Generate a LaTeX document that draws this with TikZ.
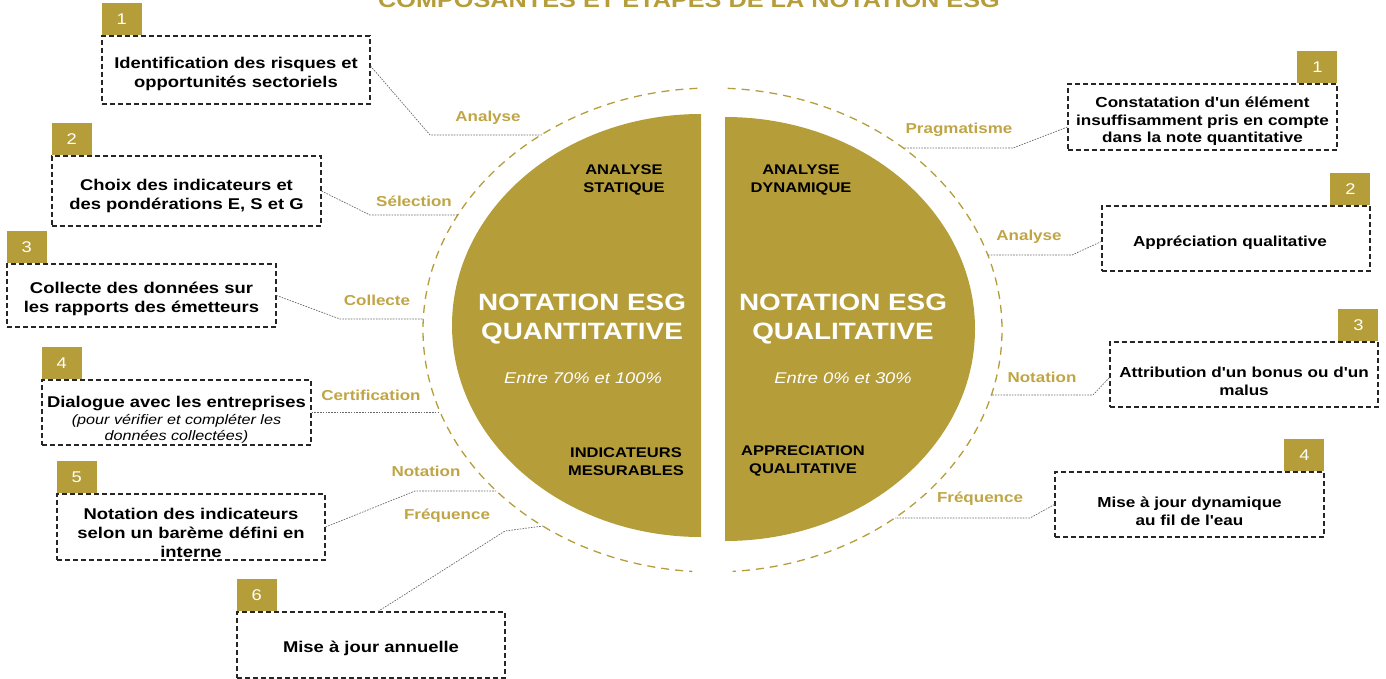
\documentclass[tikz,border=0pt]{standalone}
\usepackage{fontspec}
\setmainfont{Liberation Sans}[FakeStretch=1.18, Ligatures=TeXOff]
\definecolor{gold}{RGB}{181,157,58}
\definecolor{goldtxt}{RGB}{192,165,70}
\definecolor{conngray}{RGB}{105,105,105}
\begin{document}
\begin{tikzpicture}[x=1pt,y=-1pt,
  stepbox/.style={draw=black!85, line width=1.1pt, dash pattern=on 5pt off 3pt, inner sep=0pt},
  ltxt/.style={inner sep=0pt, align=center, text=black, font=\fontsize{15.6}{19}\selectfont\bfseries},
  rtxt/.style={ltxt, font=\fontsize{14.5}{17.5}\selectfont\bfseries},
  tab/.style={fill=gold, minimum width=40pt, minimum height=32pt, inner sep=0pt, text=white, font=\fontsize{15.5}{17}\selectfont},
  conn/.style={draw=conngray, line width=0.7pt, dash pattern=on 1.6pt off 1.2pt},
  lbl/.style={text=goldtxt, font=\fontsize{14.4}{16}\selectfont\bfseries, inner sep=0pt},
  ring/.style={draw=gold, line width=1.3pt, dash pattern=on 8pt off 6pt},
  small/.style={text=black, align=center, inner sep=0pt, font=\fontsize{14}{18}\selectfont\bfseries},
  big/.style={text=white, align=center, inner sep=0pt, font=\fontsize{23.6}{29}\selectfont\bfseries},
  pct/.style={text=white, inner sep=0pt, font=\fontsize{15.5}{18}\selectfont\itshape}
]
\useasboundingbox (0,0) rectangle (1386,679);
\clip (0,0) rectangle (1386,679);

% title (cut off at top, as in the reference)
\node[anchor=base, text=gold, inner sep=0pt, font=\fontsize{21.4}{24}\selectfont\bfseries] (title) at (689,8) {COMPOSANTES ET ETAPES DE LA NOTATION ESG};

% half discs
\fill[gold] (701,114) arc[start angle=-90, end angle=-270, x radius=249, y radius=211.5] -- cycle;
\fill[gold] (725,117) arc[start angle=-90, end angle=90, x radius=250, y radius=212] -- cycle;

% dashed ring
\draw[ring] (712.5,330) ++(-93:289.5 and 242) arc[start angle=-93, end angle=-266, x radius=289.5, y radius=242];
\draw[ring] (712.5,330) ++(-87:289.5 and 242) arc[start angle=-87, end angle=86, x radius=289.5, y radius=242];

% centre texts
\node[small] (as) at (624,180) {ANALYSE\\STATIQUE};
\node[small] (im) at (626,462) {INDICATEURS\\MESURABLES};
\node[small] (ad) at (801,180) {ANALYSE\\DYNAMIQUE};
\node[small] (aq) at (803,461) {APPRECIATION\\QUALITATIVE};
\node[big] (nq) at (582,319) {NOTATION ESG\\QUANTITATIVE};
\node[big] (nl) at (843,319) {NOTATION ESG\\QUALITATIVE};
\node[pct] (p1) at (583,378) {Entre 70\% et 100\%};
\node[pct] (p2) at (843,378) {Entre 0\% et 30\%};

% left boxes
\node[stepbox, minimum width=268pt, minimum height=68pt] (b1) at (236,70) {};
\node[stepbox, minimum width=269pt, minimum height=70pt] (b2) at (186.5,191) {};
\node[stepbox, minimum width=269pt, minimum height=63pt] (b3) at (141.5,295.5) {};
\node[stepbox, minimum width=269pt, minimum height=65pt] (b4) at (176.5,412.5) {};
\node[stepbox, minimum width=268pt, minimum height=66pt] (b5) at (191,527) {};
\node[stepbox, minimum width=268pt, minimum height=66pt] (b6) at (371,645) {};

\node[ltxt] (b1t) at ([yshift=-4pt]b1.center) {Identification des risques et\\opportunités sectoriels};
\node[ltxt] (b2t) at ([yshift=-5pt]b2.center) {Choix des indicateurs et\\des pondérations E, S et G};
\node[ltxt] (b3t) at ([yshift=-3.5pt]b3.center) {Collecte des données sur\\les rapports des émetteurs};
\node[ltxt] (b4t) at ([yshift=-7pt]b4.center) {Dialogue avec les entreprises\\[-2pt]{\mdseries\itshape\fontsize{13.7}{17}\selectfont (pour vérifier et compléter les}\\[-3pt]{\mdseries\itshape\fontsize{13.7}{17}\selectfont données collectées)}};
\node[ltxt] (b5t) at ([yshift=-5.5pt]b5.center) {Notation des indicateurs\\selon un barème défini en\\interne};
\node[ltxt] (b6t) at ([yshift=-3pt]b6.center) {Mise à jour annuelle};

\node[tab, anchor=south west] (t1) at (b1.north west) {1};
\node[tab, anchor=south west] (t2) at (b2.north west) {2};
\node[tab, anchor=south west] (t3) at (b3.north west) {3};
\node[tab, anchor=south west] (t4) at (b4.north west) {4};
\node[tab, anchor=south west] (t5) at (b5.north west) {5};
\node[tab, anchor=south west] (t6) at (b6.north west) {6};

% right boxes
\node[stepbox, minimum width=269pt, minimum height=66pt] (r1) at (1202.5,117) {};
\node[stepbox, minimum width=268pt, minimum height=65pt] (r2) at (1236,238.5) {};
\node[stepbox, minimum width=268pt, minimum height=65pt] (r3) at (1244,374.5) {};
\node[stepbox, minimum width=269pt, minimum height=65pt] (r4) at (1189.5,504.5) {};

\node[rtxt] (r1t) at ([yshift=-4.5pt]r1.center) {Constatation d'un élément\\insuffisamment pris en compte\\dans la note quantitative};
\node[rtxt] (r2t) at ([xshift=-6pt,yshift=-4pt]r2.center) {Appréciation qualitative};
\node[rtxt] (r3t) at ([yshift=-7pt]r3.center) {Attribution d'un bonus ou d'un\\malus};
\node[rtxt] (r4t) at ([yshift=-6.5pt]r4.center) {Mise à jour dynamique\\au fil de l'eau};

\node[tab, anchor=south east] (u1) at (r1.north east) {1};
\node[tab, anchor=south east] (u2) at (r2.north east) {2};
\node[tab, anchor=south east] (u3) at (r3.north east) {3};
\node[tab, anchor=south east] (u4) at (r4.north east) {4};

% labels
\node[lbl] (la1) at (488,118) {Analyse};
\node[lbl] (la2) at (414,201) {Sélection};
\node[lbl] (la3) at (377,300) {Collecte};
\node[lbl] (la4) at (371,395) {Certification};
\node[lbl] (la5) at (426,471) {Notation};
\node[lbl] (la6) at (447,516) {Fréquence};
\node[lbl] (ra1) at (959,130) {Pragmatisme};
\node[lbl] (ra2) at (1029,237) {Analyse};
\node[lbl] (ra3) at (1042,377) {Notation};
\node[lbl] (ra4) at (980,499) {Fréquence};

% connector bends and ring points
\coordinate (k1) at (430,135); \coordinate (e1) at (542.5,135);
\coordinate (k2) at (370,215); \coordinate (e2) at (458,215);
\coordinate (k3) at (340,319); \coordinate (e3) at (423.3,319);
\coordinate (e4) at (440,412.5);
\coordinate (k5) at (415,491); \coordinate (e5) at (496,491);
\coordinate (k6) at (505,531); \coordinate (e6) at (543,526);
\coordinate (m1) at (1013,148); \coordinate (f1) at (903,148);
\coordinate (m2) at (1072,255); \coordinate (f2) at (988,255);
\coordinate (m3) at (1093,395); \coordinate (f3) at (991,395);
\coordinate (m4) at (1030,518); \coordinate (f4) at (895,518);

\draw[conn] ([yshift=4pt]b1.east) -- (k1) -- (e1);
\draw[conn] (b2.east) -- (k2) -- (e2);
\draw[conn] (b3.east) -- (k3) -- (e3);
\draw[conn] (b4.east) -- (e4);
\draw[conn] (b5.east) -- (k5) -- (e5);
\draw[conn] ([xshift=7pt]b6.north) -- (k6) -- (e6);
\draw[conn] ([yshift=-10pt]r1.west) -- (m1) -- (f1);
\draw[conn] ([yshift=-3pt]r2.west) -- (m2) -- (f2);
\draw[conn] ([yshift=-3pt]r3.west) -- (m3) -- (f3);
\draw[conn] (r4.west) -- (m4) -- (f4);
\end{tikzpicture}
\end{document}
